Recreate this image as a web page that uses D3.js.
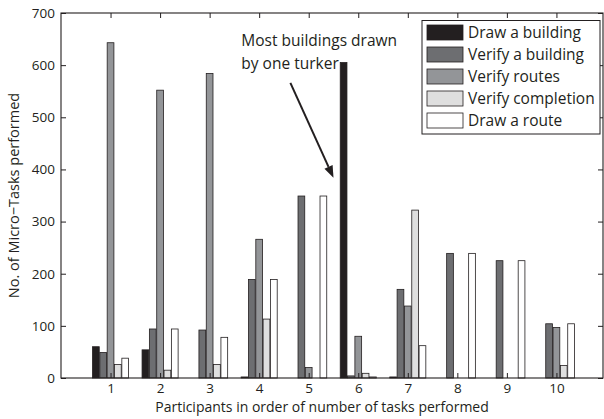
<!DOCTYPE html>
<html><head><meta charset="utf-8">
<script src="https://cdn.jsdelivr.net/npm/d3@7"></script>
<style>
body{margin:0;background:#fff;}
text{font-family:"Open Sans",sans-serif;fill:#231f20;}
</style></head>
<body><svg id="c" width="604" height="419"></svg>
<script>
const participants = [1,2,3,4,5,6,7,8,9,10];
const seriesNames = ["Draw a building","Verify a building","Verify routes","Verify completion","Draw a route"];
const drawBuilding     = [60, 54, 0, 2, 0, 605, 2, 0, 0, 0];
const verifyBuilding   = [49, 94, 92, 189, 349, 4, 170, 239, 225, 104];
const verifyRoutes     = [643, 552, 584, 266, 20, 80, 138, 0, 0, 97];
const verifyCompletion = [26, 15, 26, 113, 0, 9, 322, 0, 0, 24];
const drawRoute        = [38, 94, 78, 189, 349, 2, 62, 239, 225, 104];
const yTicks = [0,100,200,300,400,500,600,700];
const annotationLines = ["Most buildings drawn","by one turker"];
const colors = ["#231f20","#6d6e71","#939598","#dfdfdf","#ffffff"];
const seriesValues = [drawBuilding, verifyBuilding, verifyRoutes, verifyCompletion, drawRoute];

const svg = d3.select("#c");
const L=61, R=603, T=13, B=378;
const x = d3.scaleLinear().domain([0,10.94]).range([L,R]);
const y = d3.scaleLinear().domain([0,700]).range([B,T]);
const slot = 0.148;

// bars
seriesValues.forEach((vals,s)=>{
  svg.append("g").selectAll("rect").data(participants.map((p,i)=>({p,v:vals[i]})).filter(d=>d.v>0))
    .join("rect")
    .attr("x",d=>x(d.p+(s-2.5)*slot)+0.3)
    .attr("width",d=>x(slot)-x(0)-0.6)
    .attr("y",d=>y(d.v))
    .attr("height",d=>y(0)-y(d.v))
    .attr("fill",colors[s])
    .attr("stroke","#231f20")
    .attr("stroke-width",0.8);
});

// frame
svg.append("rect").attr("x",L).attr("y",T).attr("width",R-L).attr("height",B-T)
  .attr("fill","none").attr("stroke","#231f20").attr("stroke-width",1.1);

// axes with inward ticks
const ax = svg.append("g").attr("transform",`translate(0,${B})`)
  .call(d3.axisBottom(x).tickValues(participants).tickSize(-5).tickPadding(5).tickFormat(d3.format("d")));
const axTop = svg.append("g").attr("transform",`translate(0,${T})`)
  .call(d3.axisTop(x).tickValues(participants).tickSize(-5).tickFormat(""));
const ay = svg.append("g").attr("transform",`translate(${L},0)`)
  .call(d3.axisLeft(y).tickValues(yTicks).tickSize(-5).tickPadding(6));
const ayR = svg.append("g").attr("transform",`translate(${R},0)`)
  .call(d3.axisRight(y).tickValues(yTicks).tickSize(-5).tickFormat(""));
[ax,axTop,ay,ayR].forEach(g=>{
  g.select(".domain").remove();
  g.selectAll(".tick line").attr("stroke","#231f20").attr("stroke-width",1);
  g.selectAll("text").attr("font-family","'Open Sans',sans-serif").attr("font-size",13.5).attr("fill","#231f20");
});

// axis titles
svg.append("text").attr("x",(L+R)/2-10).attr("y",412).attr("text-anchor","middle")
  .attr("font-size",14).text("Participants in order of number of tasks performed");
svg.append("text").attr("transform",`translate(19,${(T+B)/2}) rotate(-90)`).attr("text-anchor","middle")
  .attr("font-size",14.5).text("No. of Micro\u2212Tasks performed");

// legend
const lg = svg.append("g");
lg.append("rect").attr("x",422).attr("y",20.5).attr("width",178).attr("height",113.5)
  .attr("fill","#fff").attr("stroke","#231f20").attr("stroke-width",1);
seriesNames.forEach((n,i)=>{
  const cy = 32.5 + i*22;
  lg.append("rect").attr("x",427).attr("y",cy-7.5).attr("width",36).attr("height",15)
    .attr("fill",colors[i]).attr("stroke","#231f20").attr("stroke-width",0.8);
  lg.append("text").attr("x",468).attr("y",cy+5.5).attr("font-size",15.5).text(n);
});

// annotation
const ann = svg.append("g");
annotationLines.forEach((t,i)=>{
  ann.append("text").attr("x",x(3.64)).attr("y",y(636)+i*23).attr("font-size",15.5).text(t);
});
const tail=[x(4.63),y(566)], tip=[x(5.5),y(384)];
const ang=Math.atan2(tip[1]-tail[1],tip[0]-tail[0]);
const hl=12, hw=4.5;
const base=[tip[0]-hl*Math.cos(ang), tip[1]-hl*Math.sin(ang)];
ann.append("line").attr("x1",tail[0]).attr("y1",tail[1]).attr("x2",base[0]).attr("y2",base[1])
  .attr("stroke","#231f20").attr("stroke-width",2);
ann.append("path").attr("d",`M${tip[0]},${tip[1]}L${base[0]+hw*Math.sin(ang)},${base[1]-hw*Math.cos(ang)}L${base[0]-hw*Math.sin(ang)},${base[1]+hw*Math.cos(ang)}Z`)
  .attr("fill","#231f20");
</script></body></html>
